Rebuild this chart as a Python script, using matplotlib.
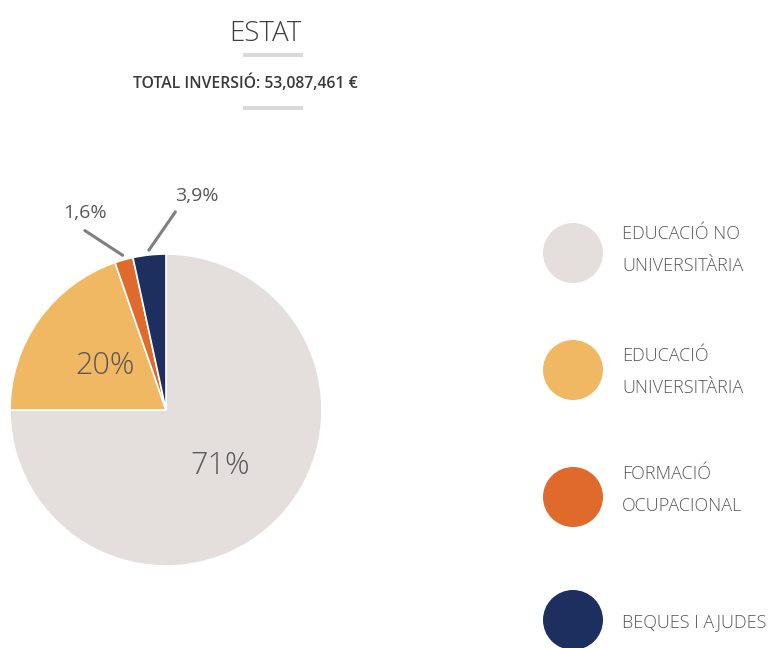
import numpy as np
import matplotlib
matplotlib.use("Agg")
import matplotlib.pyplot as plt
from matplotlib.patches import Circle, Rectangle

# ---- data ----
categories = ["EDUCACIÓ NO\nUNIVERSITÀRIA", "EDUCACIÓ\nUNIVERSITÀRIA",
              "FORMACIÓ\nOCUPACIONAL", "BEQUES I AJUDES"]
slice_values = [75.0, 19.7, 1.9, 3.4]          # slice sizes as drawn
slice_labels = ["71%", "20%", "1,6%", "3,9%"]  # printed labels
colors = ["#E4DFDC", "#F0B862", "#E06A2C", "#1C2F5E"]
title = "ESTAT"
subtitle = "TOTAL INVERSIÓ: 53,087,461 €"

W, H = 774, 648
fig = plt.figure(figsize=(W / 100, H / 100), dpi=100)
fig.patch.set_facecolor("white")

plt.rcParams['font.family'] = ['Open Sans', 'DejaVu Sans']
txt = "#595959"

# ---- pie ----
cx, cy, r = 166, 410, 156
ax = fig.add_axes([(cx - r) / W, (H - cy - r) / H, 2 * r / W, 2 * r / H])
wedges, _ = ax.pie(slice_values, colors=colors, startangle=90, counterclock=False,
                   radius=1, wedgeprops=dict(edgecolor="white", linewidth=1.2))
ax.set_xlim(-1, 1)
ax.set_ylim(-1, 1)
ax.set_aspect("equal")
ax.axis("off")

# inner labels
ax.text(0.35, -0.36, slice_labels[0], ha="center", va="center", fontsize=22,
        color=txt, fontweight="light")
ax.text(-0.39, 0.28, slice_labels[1], ha="center", va="center", fontsize=22,
        color=txt, fontweight="light")

# outside labels with leader lines
def mid_point(w):
    a = np.deg2rad((w.theta1 + w.theta2) / 2)
    return np.cos(a), np.sin(a)

outer = {2: (-0.52, 1.26), 3: (0.20, 1.37)}
line_start = {2: (-0.52, 1.15), 3: (0.06, 1.27)}
for i, (tx, ty) in outer.items():
    mx, my = mid_point(wedges[i])
    ax.text(tx, ty, slice_labels[i], ha="center", va="center", fontsize=14,
            color=txt, clip_on=False)
    sx, sy = line_start[i]
    ax.annotate("", xy=(mx * 1.03, my * 1.03), xytext=(sx, sy),
                arrowprops=dict(arrowstyle="-", color="#7f7f7f", lw=2.2,
                                shrinkA=0, shrinkB=0), annotation_clip=False)

# ---- overlay for titles & legend ----
ov = fig.add_axes([0, 0, 1, 1], zorder=-1)
ov.set_xlim(0, W)
ov.set_ylim(H, 0)
ov.axis("off")

ov.text(265, 34, title, ha="center", va="center", fontsize=20, color="#404040",
        fontweight="light")
ov.add_patch(Rectangle((243, 53), 60, 4, color="#D9D9D9", lw=0))
ov.add_patch(Rectangle((243, 106), 60, 4, color="#D9D9D9", lw=0))
ov.text(245, 83, subtitle, ha="center", va="center", fontsize=11.3,
        color="#3a3a3a", fontweight="semibold")

leg_y = [253, 370, 497, 620]
text_y = [250, 372, 490, 622]
for lbl, col, y, ty in zip(categories, colors, leg_y, text_y):
    ov.add_patch(Circle((573, y), 30, color=col, lw=0))
    ov.text(622, ty, lbl, ha="left", va="center", fontsize=13, color=txt,
            linespacing=1.95, fontweight="light")

fig.savefig("out.png", dpi=100, facecolor="white")
